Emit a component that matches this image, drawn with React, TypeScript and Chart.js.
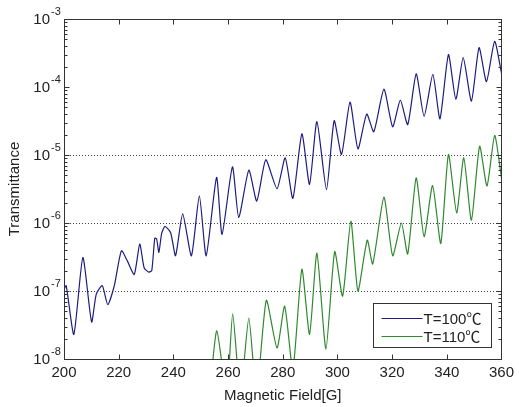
import React, { useEffect, useRef } from "react";
import { Chart, registerables } from "chart.js";
Chart.register(...registerables);

const seriesLabels = ["T=100℃", "T=110℃"];
const seriesColors = ["#1c1c82", "#2e8a2e"];

const blueField = [
  200, 200.8, 203.6, 206.9, 210.1, 211.8, 214, 216, 218.4, 221, 223.2, 225.7, 227.7, 229.3, 230.9,
  232.1, 233.2, 233.9, 234.7, 235.7, 236.9, 239, 240.8, 243.4, 246.6, 249.5, 252, 255.8, 257.8,
  261.6, 263.9, 267.6, 270.5, 273.8, 277.9, 280.9, 283.7, 287, 289.8, 292.5, 296, 298.8, 301.5,
  304.6, 307.5, 310.7, 313.3, 317, 320.2, 323, 325.7, 328.8, 331.7, 334.9, 337.5, 340.6, 343.3,
  346, 349, 351.8, 354.5, 357.5, 360,
];
const blueValues = [
  1.05e-7, 1.2e-7, 2.3e-8, 3.1e-7, 3.5e-8, 9e-8, 1.2e-7, 6.3e-8, 1.2e-7, 3.9e-7, 2.75e-7, 1.75e-7,
  4.9e-7, 2.2e-7, 1.9e-7, 2.0e-7, 6e-7, 5.8e-7, 3.7e-7, 7e-7, 8.9e-7, 7.2e-7, 3.3e-7, 1.36e-6,
  3.3e-7, 2.5e-6, 3.3e-7, 4.7e-6, 6.8e-7, 6.7e-6, 1.2e-6, 6e-6, 2.1e-6, 8.5e-6, 3.2e-6, 9.1e-6,
  2.3e-6, 2.05e-5, 3.7e-6, 3.1e-5, 3.1e-6, 3.2e-5, 1.02e-5, 6e-5, 1.23e-5, 4e-5, 2.2e-5, 9.3e-5,
  2.6e-5, 6.4e-5, 2.8e-5, 1.56e-4, 3.7e-5, 1.53e-4, 3.4e-5, 3e-4, 6.6e-5, 2.7e-4, 6.2e-5, 3.8e-4,
  1.2e-4, 4.7e-4, 1.6e-4,
];

const greenField = [
  253.5, 255.9, 259.5, 261.7, 264.5, 267.6, 270.4, 274, 277.9, 280.7, 283.7, 287, 289.8, 292.5,
  295.8, 299, 301.9, 304.9, 307.5, 310.9, 312.9, 317, 320.2, 323.4, 325.7, 328.8, 331.7, 334.8,
  337.8, 340.6, 343.6, 346.2, 349, 352, 354.7, 357.5, 360,
];
const greenValues = [
  4e-9, 2.6e-8, 3e-9, 4.6e-8, 3e-9, 4e-8, 3e-9, 7.3e-8, 1.45e-8, 6e-8, 7e-9, 2.1e-7, 2.3e-8, 3.6e-7,
  1.4e-8, 3.8e-7, 8.4e-8, 1.07e-6, 1e-7, 5.6e-7, 2.5e-7, 2.4e-6, 3.3e-7, 1e-6, 3.5e-7, 4.6e-6,
  6.3e-7, 3.55e-6, 5e-7, 1.02e-5, 1.41e-6, 9.1e-6, 1.1e-6, 1.35e-5, 3.5e-6, 1.94e-5, 4.6e-6,
];

const xTicks = [200, 220, 240, 260, 280, 300, 320, 340, 360];
const yTicks = [1e-8, 1e-7, 1e-6, 1e-5, 1e-4, 1e-3];
const gridValues = [1e-7, 1e-6, 1e-5];
const xTitle = "Magnetic Field[G]";
const yTitle = "Transmittance";

const FONT = '"Liberation Sans", "Noto Sans CJK JP", sans-serif';
const INK = "#222";
const AXIS = "#333";

const framePlugin = {
  id: "matlabFrame",
  beforeDatasetsDraw(chart: any) {
    const { ctx, chartArea: ca, scales } = chart;
    const y = scales.y;
    ctx.save();
    ctx.strokeStyle = "#444";
    ctx.lineWidth = 1;
    ctx.setLineDash([1, 2]);
    for (const v of gridValues) {
      const py = Math.round(y.getPixelForValue(v)) + 0.5;
      ctx.beginPath();
      ctx.moveTo(ca.left, py);
      ctx.lineTo(ca.right, py);
      ctx.stroke();
    }
    ctx.restore();
  },
  afterDatasetsDraw(chart: any) {
    const { ctx, chartArea: ca, scales } = chart;
    const x = scales.x;
    const y = scales.y;
    ctx.save();
    ctx.strokeStyle = AXIS;
    ctx.lineWidth = 1;
    const L = Math.round(ca.left) + 0.5;
    const R = Math.round(ca.right) + 0.5;
    const T = Math.round(ca.top) + 0.5;
    const B = Math.round(ca.bottom) + 0.5;
    ctx.strokeRect(L, T, R - L, B - T);
    ctx.beginPath();
    for (const v of xTicks) {
      const px = Math.round(x.getPixelForValue(v)) + 0.5;
      ctx.moveTo(px, B);
      ctx.lineTo(px, B - 5);
      ctx.moveTo(px, T);
      ctx.lineTo(px, T + 5);
    }
    for (let d = -8; d <= -3; d++) {
      for (let k = 1; k <= 9; k++) {
        const v = k * Math.pow(10, d);
        if (v > 1e-3 * 1.0001) break;
        const py = Math.round(y.getPixelForValue(v)) + 0.5;
        const len = k === 1 ? 5 : 3;
        ctx.moveTo(L, py);
        ctx.lineTo(L + len, py);
        ctx.moveTo(R, py);
        ctx.lineTo(R - len, py);
      }
    }
    ctx.stroke();

    // y tick labels: 10 with raised exponent
    ctx.fillStyle = INK;
    for (const v of yTicks) {
      const py = y.getPixelForValue(v);
      const e = Math.round(Math.log10(v));
      ctx.font = "15px " + FONT;
      ctx.textAlign = "right";
      ctx.textBaseline = "middle";
      ctx.fillText("10", ca.left - 14, py + 1);
      ctx.font = "11px " + FONT;
      ctx.textAlign = "left";
      ctx.textBaseline = "alphabetic";
      ctx.fillText(String(e), ca.left - 13, py - 4);
    }

    // legend
    ctx.font = "15px " + FONT;
    const boxRight = Math.round(ca.right - 10) + 0.5;
    const boxBottom = Math.round(ca.bottom - 12) + 0.5;
    const tw = Math.max(...seriesLabels.map((s) => ctx.measureText(s).width));
    const boxW = Math.round(8 + 41 + 2 + tw + 9);
    const boxH = 44;
    const boxLeft = boxRight - boxW;
    const boxTop = boxBottom - boxH;
    ctx.fillStyle = "#fff";
    ctx.fillRect(boxLeft, boxTop, boxW, boxH);
    ctx.strokeStyle = AXIS;
    ctx.strokeRect(boxLeft, boxTop, boxW, boxH);
    seriesLabels.forEach((lab, i) => {
      const ry = Math.round(boxTop + 14 + i * 18.5) + 0.5;
      ctx.strokeStyle = seriesColors[i];
      ctx.beginPath();
      ctx.moveTo(boxLeft + 8, ry);
      ctx.lineTo(boxLeft + 49, ry);
      ctx.stroke();
      ctx.fillStyle = INK;
      ctx.textAlign = "left";
      ctx.textBaseline = "middle";
      ctx.fillText(lab, boxLeft + 50, ry + 1);
    });
    ctx.restore();
  },
};

export default function App() {
  const ref = useRef<HTMLCanvasElement>(null);
  useEffect(() => {
    document.body.style.margin = "0";
    const chart = new Chart(ref.current as HTMLCanvasElement, {
      type: "line",
      data: {
        datasets: [
          {
            label: seriesLabels[0],
            data: blueField.map((f, i) => ({ x: f, y: blueValues[i] })),
            borderColor: seriesColors[0],
            borderWidth: 1.2,
            pointRadius: 0,
            tension: 0.2,
            fill: false,
          },
          {
            label: seriesLabels[1],
            data: greenField.map((f, i) => ({ x: f, y: greenValues[i] })),
            borderColor: seriesColors[1],
            borderWidth: 1.2,
            pointRadius: 0,
            tension: 0.2,
            fill: false,
          },
        ],
      },
      options: {
        responsive: false,
        animation: false,
        layout: { padding: { top: 19, right: 14, left: 0, bottom: 0 } },
        plugins: { legend: { display: false }, tooltip: { enabled: false } },
        scales: {
          x: {
            type: "linear",
            min: 200,
            max: 360,
            afterBuildTicks: (s: any) => {
              s.ticks = xTicks.map((v) => ({ value: v }));
            },
            afterFit: (s: any) => {
              s.height = 48;
            },
            ticks: {
              autoSkip: false,
              maxRotation: 0,
              padding: 5,
              color: INK,
              font: { size: 15, family: FONT },
            },
            grid: { display: false, drawTicks: false },
            border: { display: false },
            title: {
              display: true,
              text: xTitle,
              color: INK,
              font: { size: 15, family: FONT },
              padding: { top: 0, bottom: 2 },
            },
          },
          y: {
            type: "logarithmic",
            min: 1e-8,
            max: 1e-3,
            afterBuildTicks: (s: any) => {
              s.ticks = yTicks.map((v) => ({ value: v }));
            },
            afterFit: (s: any) => {
              s.width = 64;
            },
            ticks: { display: false },
            grid: { display: false, drawTicks: false },
            border: { display: false },
            title: {
              display: true,
              text: yTitle,
              color: INK,
              font: { size: 15, family: FONT },
              padding: { top: 6, bottom: 0 },
            },
          },
        },
      } as any,
      plugins: [framePlugin],
    });
    return () => chart.destroy();
  }, []);
  return <canvas ref={ref} width={519} height={407} />;
}
